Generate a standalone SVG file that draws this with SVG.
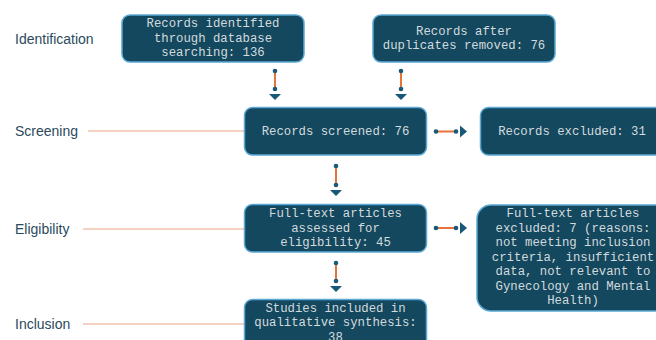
<svg xmlns="http://www.w3.org/2000/svg" width="656" height="340" viewBox="0 0 656 340">
<defs>
<style>
.stage{font-family:"Liberation Sans",Arial,sans-serif;font-size:14px;fill:#2b4a5d}
.guide{stroke:#f0c3ae;stroke-width:1.3;fill:none}
.box{fill:#13485f;stroke:#5ba8d4;stroke-width:1.5}
.bt{font-family:"Liberation Mono","Courier New",monospace;font-size:12.3px;fill:#d3dadd;text-anchor:middle;dominant-baseline:central}
.cl{stroke:#e8733a;stroke-width:2;fill:none}
.dot{fill:#1a5878}
.tri{fill:#1a5878}
</style>
</defs>
<rect width="656" height="340" fill="#ffffff"/>
<g id="stages">
<text class="stage" x="15" y="44">Identification</text>
<text class="stage" x="15" y="136">Screening</text>
<line class="guide" x1="88" y1="131" x2="244" y2="131"/>
<text class="stage" x="15" y="234">Eligibility</text>
<line class="guide" x1="83" y1="229" x2="244" y2="229"/>
<text class="stage" x="15" y="329">Inclusion</text>
<line class="guide" x1="83" y1="324" x2="244" y2="324"/>
</g>
<g id="connectors">
<g>
<line class="cl" x1="275" y1="71" x2="275" y2="89"/>
<circle class="dot" cx="275" cy="71" r="2.3"/><circle class="dot" cx="275" cy="89" r="2.3"/>
<polygon class="tri" points="269,94 281,94 275,100"/>
</g>
<g>
<line class="cl" x1="401" y1="71" x2="401" y2="89"/>
<circle class="dot" cx="401" cy="71" r="2.3"/><circle class="dot" cx="401" cy="89" r="2.3"/>
<polygon class="tri" points="395,94 407,94 401,100"/>
</g>
<g>
<line class="cl" x1="336" y1="166" x2="336" y2="185"/>
<circle class="dot" cx="336" cy="166" r="2.3"/><circle class="dot" cx="336" cy="185" r="2.3"/>
<polygon class="tri" points="330,190 342,190 336,196"/>
</g>
<g>
<line class="cl" x1="336" y1="263" x2="336" y2="281"/>
<circle class="dot" cx="336" cy="263" r="2.3"/><circle class="dot" cx="336" cy="281" r="2.3"/>
<polygon class="tri" points="330,286 342,286 336,292"/>
</g>
<g>
<line class="cl" x1="436" y1="131.5" x2="456" y2="131.5"/>
<circle class="dot" cx="436" cy="131.5" r="2.3"/><circle class="dot" cx="456" cy="131.5" r="2.3"/>
<polygon class="tri" points="460,125.5 460,137.5 467,131.5"/>
</g>
<g>
<line class="cl" x1="436" y1="228" x2="456" y2="228"/>
<circle class="dot" cx="436" cy="228" r="2.3"/><circle class="dot" cx="456" cy="228" r="2.3"/>
<polygon class="tri" points="460,222 460,234 467,228"/>
</g>
</g>
<g id="n1">
<rect class="box" x="122" y="15" width="182" height="47" rx="8"/>
<text class="bt" x="213" y="24">Records identified</text>
<text class="bt" x="213" y="38.5">through database</text>
<text class="bt" x="213" y="53">searching: 136</text>
</g>
<g id="n2">
<rect class="box" x="373" y="15" width="182" height="47" rx="8"/>
<text class="bt" x="464" y="31.5">Records after</text>
<text class="bt" x="464" y="45.5">duplicates removed: 76</text>
</g>
<g id="n3">
<rect class="box" x="244.5" y="107.5" width="182" height="47.5" rx="8"/>
<text class="bt" x="335.5" y="131.5">Records screened: 76</text>
</g>
<g id="n4">
<rect class="box" x="480.5" y="107.5" width="183" height="47.5" rx="8"/>
<text class="bt" x="572" y="131.5">Records excluded: 31</text>
</g>
<g id="n5">
<rect class="box" x="244.5" y="204.5" width="182" height="47.5" rx="8"/>
<text class="bt" x="335.5" y="214">Full-text articles</text>
<text class="bt" x="335.5" y="228.5">assessed for</text>
<text class="bt" x="335.5" y="243">eligibility: 45</text>
</g>
<g id="n6">
<rect class="box" x="244.5" y="299.5" width="182" height="60" rx="8"/>
<text class="bt" x="335.5" y="308.5">Studies included in</text>
<text class="bt" x="335.5" y="323">qualitative synthesis:</text>
<text class="bt" x="335.5" y="337.5">38</text>
</g>
<g id="n7">
<rect class="box" x="477" y="205" width="192" height="106" rx="14"/>
<text class="bt" x="573" y="214">Full-text articles</text>
<text class="bt" x="573" y="228.5">excluded: 7 (reasons:</text>
<text class="bt" x="573" y="243">not meeting inclusion</text>
<text class="bt" x="573" y="257.5">criteria, insufficient</text>
<text class="bt" x="573" y="272">data, not relevant to</text>
<text class="bt" x="573" y="286.5">Gynecology and Mental</text>
<text class="bt" x="573" y="301">Health)</text>
</g>
</svg>
